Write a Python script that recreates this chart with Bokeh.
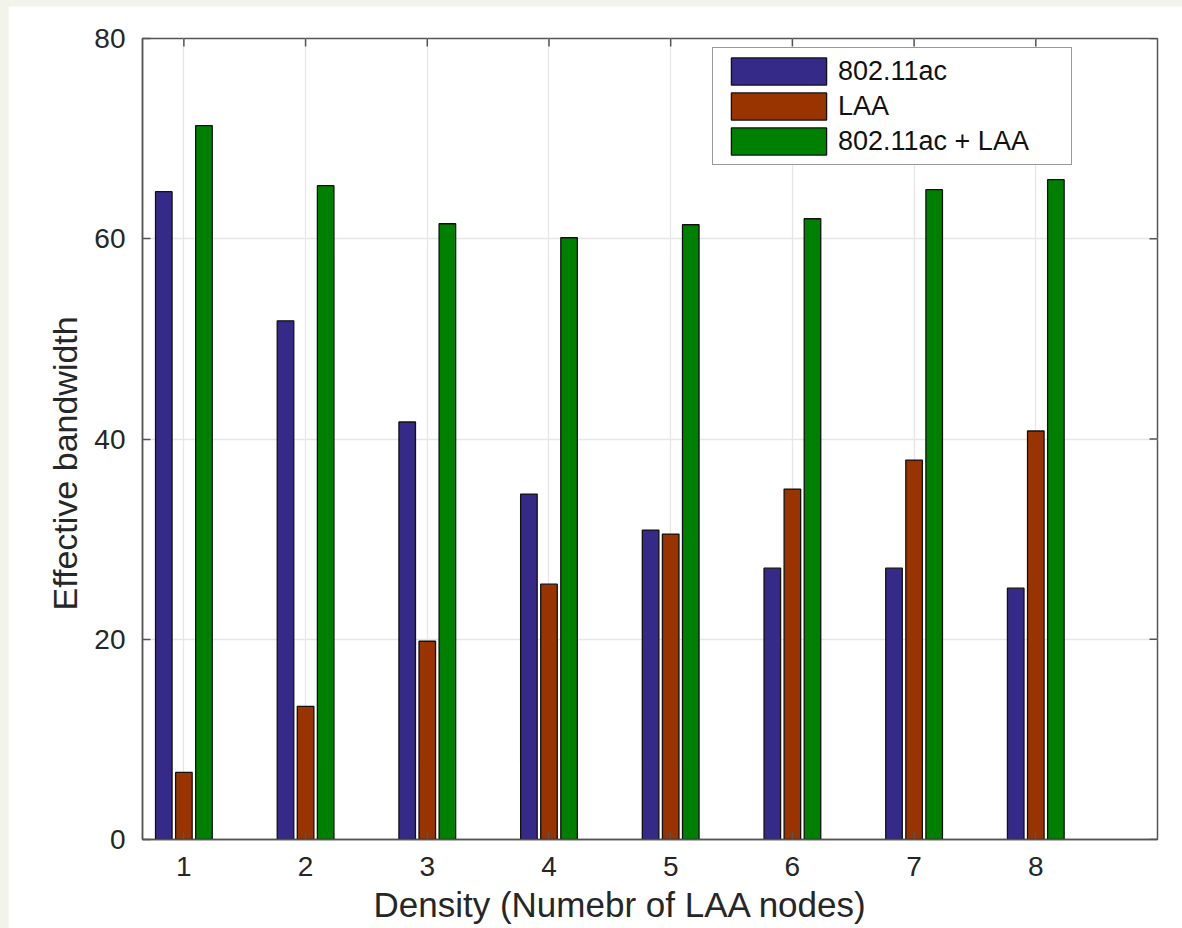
import math
from bokeh.plotting import figure
from bokeh.models import FixedTicker, Legend, LegendItem, ColumnDataSource, Range1d, Title
from bokeh.transform import dodge
from bokeh.embed import file_html
from bokeh.resources import INLINE

# ---- data ----
density = [1, 2, 3, 4, 5, 6, 7, 8]
ac = [64.7, 51.8, 41.7, 34.5, 30.9, 27.1, 27.1, 25.1]
laa = [6.7, 13.3, 19.8, 25.5, 30.5, 35.0, 37.9, 40.8]
combined = [71.3, 65.3, 61.5, 60.1, 61.4, 62.0, 64.9, 65.9]
y_ticks = [0, 20, 40, 60, 80]
x_limits = (0.66, 9.0)
y_limits = (0, 80)
series_names = ["802.11ac", "LAA", "802.11ac + LAA"]
colors = ["#352a87", "#993300", "#008000"]
x_title = "Density (Numebr of LAA nodes)"
y_title = "Effective bandwidth"

source = ColumnDataSource(data=dict(x=density, ac=ac, laa=laa, combined=combined))

FONT = "Liberation Sans"
TXT = "#262626"
AXC = "#555555"

p = figure(width=1174, height=922,
           x_range=Range1d(*x_limits), y_range=Range1d(*y_limits),
           output_backend="svg", toolbar_location=None,
           min_border_left=134, min_border_right=25,
           min_border_top=32, min_border_bottom=89,
           border_fill_color="white", background_fill_color="white")

p.outline_line_color = AXC
p.outline_line_width = 1.5

offsets = [-0.165, 0.0, 0.165]
cols = ["ac", "laa", "combined"]
renderers = []
for c, off, col in zip(cols, offsets, colors):
    r = p.vbar(x=dodge("x", off, range=p.x_range), top=c, width=0.136, bottom=0,
               source=source, fill_color=col, line_color="#111111", line_width=1.3)
    renderers.append(r)

# axes
for ax in p.xaxis:
    ax.ticker = FixedTicker(ticks=density)
for ax in p.yaxis:
    ax.ticker = FixedTicker(ticks=y_ticks)

for ax in list(p.xaxis) + list(p.yaxis):
    ax.major_tick_in = 8
    ax.major_tick_out = 0
    ax.minor_tick_line_color = None
    ax.axis_line_color = AXC
    ax.axis_line_width = 1.5
    ax.major_tick_line_color = AXC
    ax.major_tick_line_width = 1.5
    ax.major_label_text_font = FONT
    ax.major_label_text_font_size = "28px"
    ax.major_label_text_color = TXT

p.xaxis.major_label_standoff = 17
p.yaxis.major_label_standoff = 17

# axis titles (slightly off-centre, as in the reference)
p.add_layout(Title(text=x_title, align="left", offset=231, standoff=9,
                   text_font=FONT, text_font_size="35px", text_font_style="normal",
                   text_color=TXT), "below")
p.add_layout(Title(text=y_title, align="left", offset=229, standoff=15,
                   text_font=FONT, text_font_size="34px", text_font_style="normal",
                   text_color=TXT), "left")

# box ticks on top and right edges (inward)
p.ray(x=density, y=y_limits[1], length=8, length_units="screen", angle=-math.pi / 2,
      line_color=AXC, line_width=1.5)
p.ray(x=x_limits[1], y=y_ticks, length=8, length_units="screen", angle=math.pi,
      line_color=AXC, line_width=1.5)

p.xgrid.ticker = FixedTicker(ticks=density)
p.ygrid.ticker = FixedTicker(ticks=y_ticks)
p.grid.grid_line_color = "#e6e6e6"
p.grid.grid_line_width = 1.3

legend = Legend(items=[LegendItem(label=n, renderers=[r]) for n, r in zip(series_names, renderers)],
                location=(570, 674), orientation="vertical",
                glyph_width=119, glyph_height=34, spacing=1, padding=6,
                label_standoff=0, label_width=227, label_height=27,
                label_text_font=FONT, label_text_font_size="27px", label_text_color="#111111",
                border_line_color="#333333", border_line_width=1.5,
                background_fill_color="white", background_fill_alpha=1.0)
p.add_layout(legend, "center")

html = file_html(p, INLINE)
html = html.replace("</head>",
                    "<style>html,body{background-color:#f2f4ec;margin:0;}"
                    "body{padding:6px 0 0 8px;}</style></head>", 1)
open("out.html", "w").write(html)
